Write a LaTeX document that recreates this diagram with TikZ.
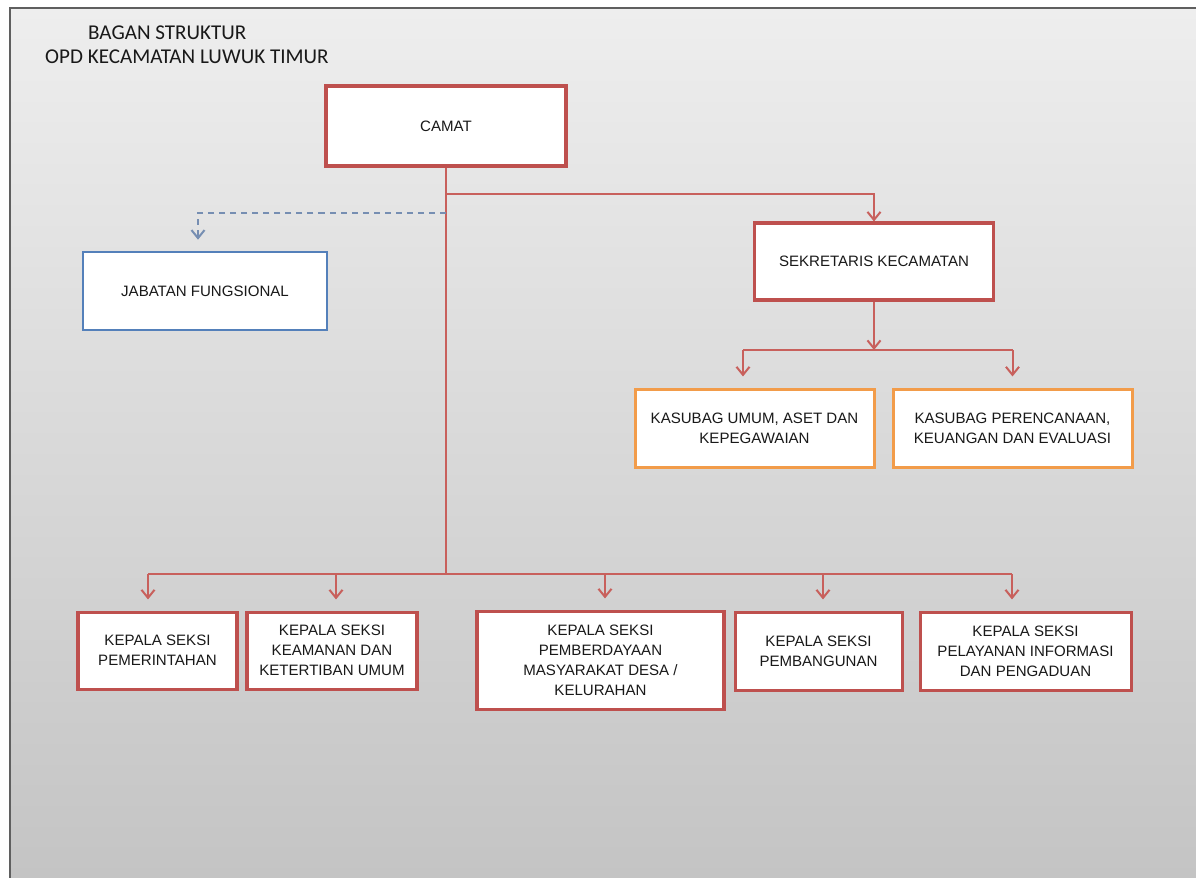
\documentclass[tikz,border=0pt]{standalone}
\usepackage{fontspec}
\setmainfont{Liberation Sans}
\newfontfamily\titlefont{Carlito}
\usetikzlibrary{arrows.meta}

\definecolor{boxred}{RGB}{190,80,78}
\definecolor{linkred}{RGB}{200,96,92}
\definecolor{boxblue}{RGB}{84,128,186}
\definecolor{boxorange}{RGB}{242,156,74}
\definecolor{dashblue}{RGB}{118,142,178}
\definecolor{framegray}{RGB}{95,95,95}
\definecolor{bgtop}{RGB}{238,238,238}
\definecolor{bgmid}{RGB}{222,222,222}
\definecolor{bgbot}{RGB}{196,196,196}

\begin{document}
\begin{tikzpicture}[
    y=-1cm,
    >={Straight Barb[length=8pt,width=13pt]},
    dims/.style 2 args={minimum width=#1*0.035cm,minimum height=#2*0.035cm},
    post/.style={draw=boxred,line width=3pt,fill=white,inner sep=0pt,
      align=center,text=black!90,font=\fontsize{15}{20}\selectfont},
    subpost/.style={post,draw=boxorange},
    fungpost/.style={post,draw=boxblue,line width=2.5pt},
    link/.style={draw=linkred,line width=2pt},
    droplink/.style={link,->,shorten >=11pt},
    dashlink/.style={draw=dashblue,line width=2pt,dash pattern=on 6pt off 5pt},
    heading/.style={anchor=west,inner sep=0pt,text=black!90,
      font=\titlefont\fontsize{21}{25}\selectfont}]

  \def\f{*0.035}

  \useasboundingbox (0,0) rectangle (1196\f,878\f);
  \fill[white] (0,0) rectangle (1196\f,878\f);
  \shade[top color=bgtop,middle color=bgmid,bottom color=bgbot]
    (10\f,8\f) rectangle (1196\f,878\f);
  \draw[framegray,line width=2pt]
    (10\f,878\f) -- (10\f,8\f) -- (1196\f,8\f);

  \node[heading] (title) at (88\f,33\f) {BAGAN STRUKTUR};
  \node[heading] (subtitle) at (45\f,57\f) {OPD KECAMATAN LUWUK TIMUR};

  \node[post,dims={240}{80}] (camat) at (446\f,126\f) {CAMAT};
  \node[fungpost,dims={244}{78}] (jabfung) at (205\f,291\f) {JABATAN FUNGSIONAL};
  \node[post,dims={239}{77}] (sekcam) at (874\f,261.5\f) {SEKRETARIS KECAMATAN};

  \node[subpost,dims={239}{78}] (kasumum) at (754.5\f,428\f)
    {KASUBAG UMUM, ASET DAN\\KEPEGAWAIAN};
  \node[subpost,dims={239}{78}] (kasren) at (1012.5\f,428\f)
    {KASUBAG PERENCANAAN,\\KEUANGAN DAN EVALUASI};

  \node[post,dims={159}{77}] (kspem) at (157.5\f,650.5\f)
    {KEPALA SEKSI\\PEMERINTAHAN};
  \node[post,dims={170}{77}] (kskam) at (332\f,650.5\f)
    {KEPALA SEKSI\\KEAMANAN DAN\\KETERTIBAN UMUM};
  \node[post,dims={247}{98}] (ksmas) at (600.5\f,660\f)
    {KEPALA SEKSI\\PEMBERDAYAAN\\MASYARAKAT DESA /\\KELURAHAN};
  \node[post,dims={167}{78}] (ksbang) at (818.5\f,651\f)
    {KEPALA SEKSI\\PEMBANGUNAN};
  \node[post,dims={211}{78}] (kspel) at (1025.5\f,651\f)
    {KEPALA SEKSI\\PELAYANAN INFORMASI\\DAN PENGADUAN};

  \coordinate (sekjunc) at (446\f,194\f);
  \coordinate (fungjunc) at (446\f,213\f);
  \coordinate (fungcol) at (198\f,0);
  \coordinate (subleft) at (743\f,350\f);
  \coordinate (subright) at (1012.5\f,350\f);
  \coordinate (busleft) at (148\f,574\f);
  \coordinate (busright) at (1012\f,574\f);

  \draw[link]
    (camat.south) -- (camat.south |- busleft);
  \draw[link,->]
    (sekjunc) -| (sekcam.north);
  \draw[dashlink,->,shorten >=11pt]
    (fungjunc) -| (fungcol |- jabfung.north);

  \draw[link,->]
    (sekcam.south) -- (sekcam.south |- subleft);
  \draw[link]
    (subleft) -- (subright);
  \draw[droplink] (subleft) -- (subleft |- kasumum.north);
  \draw[droplink] (subright) -- (kasren.north);

  \draw[link]
    (busleft) -- (busright);
  \foreach \x/\n in {148/kspem,336/kskam,605/ksmas,823/ksbang,1012/kspel}{
    \coordinate (drop) at (\x\f,574\f);
    \draw[droplink] (drop) -- (drop |- \n.north);
  }
\end{tikzpicture}
\end{document}
